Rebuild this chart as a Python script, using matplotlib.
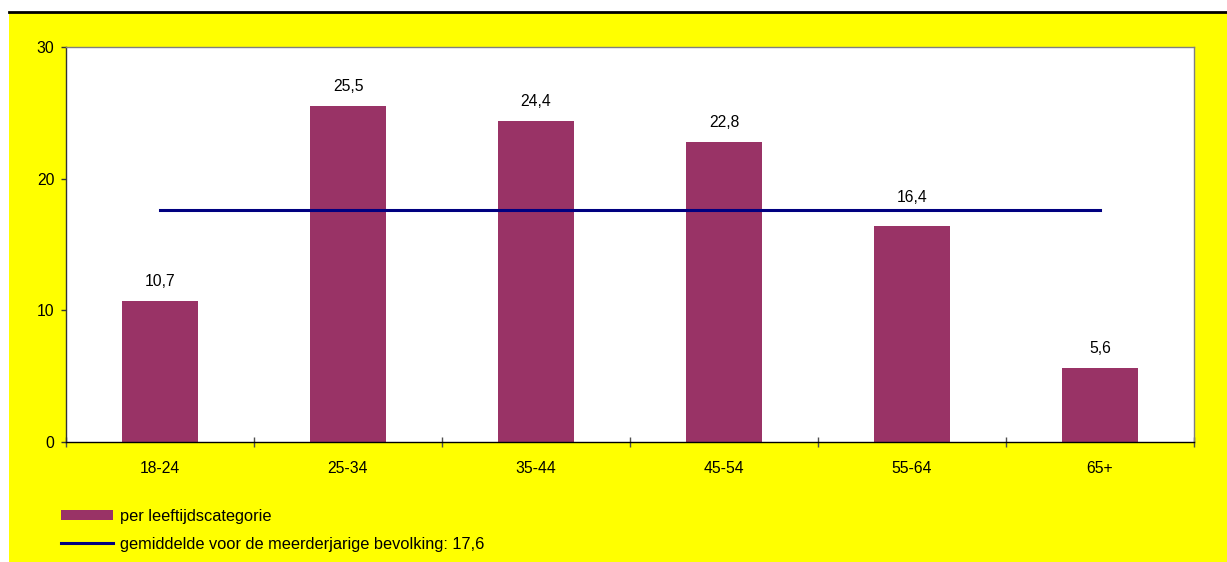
"""Leeftijdscategorie bar chart with overall average line"""
import matplotlib
matplotlib.use("Agg")
import matplotlib.pyplot as plt
from matplotlib.patches import Rectangle
from matplotlib.lines import Line2D

plt.rcParams["font.family"] = ["Liberation Sans", "DejaVu Sans"]

categories = ["18-24", "25-34", "35-44", "45-54", "55-64", "65+"]
values = [10.7, 25.5, 24.4, 22.8, 16.4, 5.6]
average = 17.6
bar_label = "per leeftijdscategorie"
line_label = "gemiddelde voor de meerderjarige bevolking: 17,6"

BAR_COLOR = "#993366"
LINE_COLOR = "#000080"
YELLOW = "#FFFF00"

W, H = 1227, 562
fig = plt.figure(figsize=(W / 100, H / 100), dpi=100, facecolor="white")

# yellow chart area with a black rule on top
fig.patches.append(Rectangle((9 / W, 0), 1 - 9 / W, 1 - 12 / H,
                             transform=fig.transFigure, facecolor=YELLOW,
                             edgecolor="none", zorder=-2))
fig.lines.append(Line2D([9 / W, 1], [1 - 11.5 / H, 1 - 11.5 / H],
                        transform=fig.transFigure, color="black", lw=2,
                        zorder=-1))

ax = fig.add_axes([66 / W, 1 - 442 / H, (1194 - 66) / W, (442 - 47) / H])
ax.set_facecolor("white")

x = list(range(len(categories)))
bars = ax.bar(x, values, width=0.405, color=BAR_COLOR, zorder=2,
              label=bar_label)
line, = ax.plot([x[0], x[-1]], [average, average], color=LINE_COLOR, lw=2.2,
                zorder=3, label=line_label)

ax.set_xlim(-0.5, len(categories) - 0.5)
ax.set_ylim(0, 30)

# value labels; one that would sit on the average line goes above it
px_per_unit = (442 - 47) / 30
for xi, v in zip(x, values):
    anchor = v
    offset = 14
    if abs(v + 19 / px_per_unit - average) < 1.0:
        anchor, offset = average, 9
    ax.annotate(f"{v:.1f}".replace(".", ","), (xi, anchor),
                xytext=(0, offset), textcoords="offset points",
                ha="center", va="center", fontsize=11.3)

ax.set_yticks([0, 10, 20, 30])
ax.tick_params(axis="y", direction="out", length=3.8, width=1, pad=4.5,
               labelsize=11.3, color="#333333")

# category boundaries as major ticks, names on minor ticks
ax.set_xticks([i - 0.5 for i in range(len(categories) + 1)])
ax.set_xticklabels([])
ax.set_xticks(x, minor=True)
ax.set_xticklabels(categories, minor=True)
ax.tick_params(axis="x", which="major", direction="inout", length=7.5,
               width=1, color="#505050")
ax.tick_params(axis="x", which="minor", length=0, pad=13.5, labelsize=11.3)

for side in ("top", "right"):
    ax.spines[side].set_color("#808080")
ax.spines["left"].set_color("#333333")
ax.spines["bottom"].set_color("black")
for s in ax.spines.values():
    s.set_linewidth(1)

fig.legend(handles=[bars, line], labels=[bar_label, line_label],
           loc="upper left", bbox_to_anchor=(46 / W, 1 - 494 / H),
           frameon=False, fontsize=11.8, handlelength=3.2, handleheight=0.6,
           handletextpad=0.42, labelspacing=0.8)

fig.savefig("out.png", dpi=100, facecolor="white")
